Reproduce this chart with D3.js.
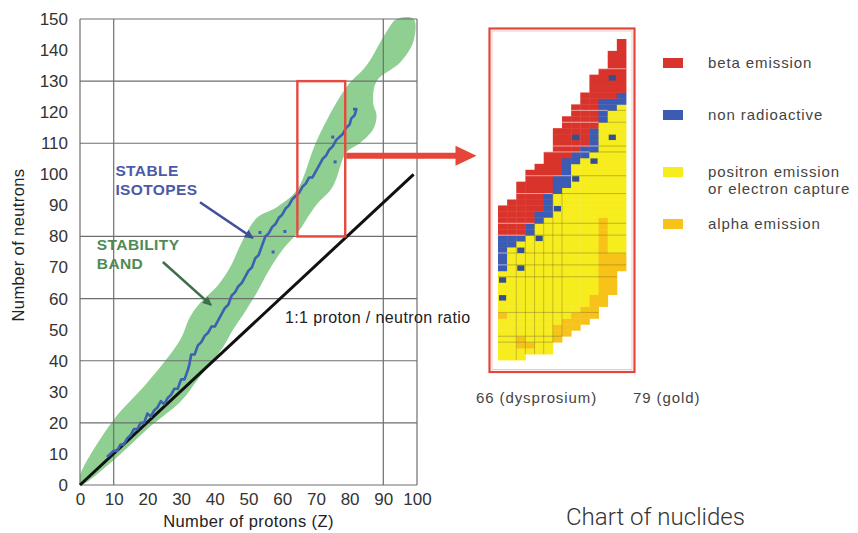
<!DOCTYPE html>
<html lang="en">
<head>
    <meta charset="UTF-8">
    <title>Stability band and chart of nuclides</title>
    <script src="https://d3js.org/d3.v7.min.js"></script>
    <style>
        body {
            margin: 0;
            background: #fff;
            font-family: Arial, "Liberation Sans", sans-serif;
        }
        svg { display: block; }
        .tick text { font-size: 17px; fill: #333; }
        .legend-text { font-size: 15px; fill: #444; letter-spacing: 0.9px; }
        .note { font-size: 16px; fill: #222; letter-spacing: 0.4px; }
        .axis-title { font-size: 16.5px; fill: #222; letter-spacing: 0.4px; }
    </style>
</head>
<body>
    <svg id="chart" width="858" height="533"></svg>

    <script>
        // ---------- data: left panel ----------
        const protonTicks = [0, 10, 20, 30, 40, 50, 60, 70, 80, 90, 100];
        const neutronTicks = [0, 10, 20, 30, 40, 50, 60, 70, 80, 90, 100, 110, 120, 130, 140, 150];
        const gridProtons = [0, 10, 90, 100];
        const gridNeutrons = [0, 20, 40, 60, 80, 110, 130, 150];

        // stability band edges [Z, N]
        const bandUpper = [[0, 3], [10, 21], [20, 33], [29.7, 46.7], [32.6, 54], [35.6, 58.6], [40.7, 64],
            [44.5, 70], [48.4, 79], [52.5, 86], [58.5, 89.5], [64.4, 95], [70.3, 111], [79, 128],
            [85, 135], [91, 146], [94, 150]];
        const bandLower = [[0, 0], [10, 8], [20, 18], [30, 27], [35, 34], [42.5, 44.5], [45.4, 50],
            [48.5, 55], [52.5, 62], [56, 69], [60, 75.6], [64.4, 81], [70, 90], [75, 96], [79, 107],
            [83, 110], [87, 114.5], [88, 119], [87, 123], [88, 130], [95, 136], [99, 143], [99, 150]];

        // stable isotopes trace [Z, N]
        const stableTrace = [[8, 9], [9, 10], [10, 11], [11, 11], [12, 13], [13, 13], [14, 15], [15, 16],
            [16, 18], [17, 18], [18, 20], [19, 20], [20, 23], [21, 22], [22, 24], [23, 25], [24, 27],
            [25, 26], [26, 28], [27, 29], [28, 31], [29, 31], [30, 34], [31, 34], [32, 37], [32.5, 39],
            [33, 42], [34, 42], [35, 45], [36, 46], [37, 48], [38, 49], [39, 51], [40, 51], [41, 53],
            [42, 55], [43, 57], [44, 58], [45, 61], [46, 62], [47, 64], [48, 65], [49, 67], [50, 69],
            [51, 70], [52, 73], [53, 74], [54, 77], [55, 80], [56, 81], [57, 83], [58, 84], [59, 86],
            [60, 87], [61, 89], [62, 90], [63, 92], [64, 93], [65, 94], [66, 96], [67, 97], [68, 99],
            [69, 99], [70, 101], [71, 103], [72, 105], [73, 106], [74, 108], [75, 109], [76, 111],
            [77, 112], [78, 113], [79, 115], [80, 116], [80.5, 118], [81.5, 119], [82, 121], [81, 121]];
        const strayStable = [[53.4, 81.3], [60.8, 81.6], [57.3, 75], [75, 112], [75.7, 104]];

        const oneToOne = [[0, 0], [99, 100]];
        const zoomRangeZ = [64.5, 78.7];
        const zoomRangeN = [80, 130];

        // ---------- data: chart of nuclides ----------
        const nuclideZ = [66, 67, 68, 69, 70, 71, 72, 73, 74, 75, 76, 77, 78, 79];
        const colTop = [95, 96, 99, 101, 102, 104, 108, 110, 112, 114, 117, 118, 121, 123];
        const colRedLow = [91, 91, 91, 93, 95, 98, 101, 104, 105, 106, 109, 114, 114, 115];
        const colBlueLow = [85, 89, 90, 91, 93, 94, 98, 99, 103, 104, 105, 110, 112, 113];
        const colBottom = [70, 70, 70, 71, 71, 71, 73, 74, 75, 76, 77, 79, 81, 85];
        // alpha emitters [Z, N from, N to]
        const alphaRanges = [[66, 77, 77], [68, 72, 73], [69, 72, 72], [72, 73, 75], [73, 74, 76],
            [74, 75, 77], [75, 76, 78], [76, 77, 80], [77, 79, 93], [78, 81, 87], [79, 85, 87]];
        // isolated stable nuclides [Z, N]
        const stableCells = [[78, 117], [78, 107], [74, 107], [76, 103], [74, 100], [72, 95], [70, 90],
            [68, 88], [68, 85], [66, 83], [66, 80]];
        const gridRowsN = [118, 111, 109, 105, 104, 100, 97, 92, 90, 87, 85, 83, 77, 73, 72];
        const gridColsZ = [68, 69, 70, 71, 72, 73];

        const legendKeys = ["beta", "stable", "ec", "alpha"];
        const legendLabels = [["beta emission"], ["non radioactive"],
            ["positron emission", "or electron capture"], ["alpha emission"]];
        const cellColor = {beta: "#d9342b", stable: "#3c5cb4", ec: "#f7ec1e", alpha: "#f7c318"};

        const svg = d3.select("#chart");

        // ---------- left panel ----------
        const x = d3.scaleLinear().domain([0, 100]).range([80, 417]);
        const y = d3.scaleLinear().domain([0, 150]).range([485, 19]);

        svg.append("defs").html(`
            <marker id="headBlue" viewBox="0 0 10 10" refX="9" refY="5" markerUnits="userSpaceOnUse"
                markerWidth="11" markerHeight="9" orient="auto"><path d="M0,0L10,5L0,10z" fill="#3e4f9c"/></marker>
            <marker id="headGreen" viewBox="0 0 10 10" refX="9" refY="5" markerUnits="userSpaceOnUse"
                markerWidth="11" markerHeight="9" orient="auto"><path d="M0,0L10,5L0,10z" fill="#3f6f48"/></marker>
            <clipPath id="plotClip"><rect x="80" y="17" width="340" height="470"/></clipPath>`);

        // stability band
        const bandPts = bandUpper.concat(bandLower.slice().reverse());
        svg.append("path")
            .attr("clip-path", "url(#plotClip)")
            .attr("d", d3.line().x(d => x(d[0])).y(d => y(d[1]))
                .curve(d3.curveCatmullRomClosed.alpha(0.5))(bandPts))
            .attr("fill", "#90cf92");

        // grid
        const grid = svg.append("g").attr("stroke", "#6e6e6e").attr("stroke-width", 1.2);
        grid.selectAll(".h").data(gridNeutrons).join("line").attr("class", "h")
            .attr("x1", x(0)).attr("x2", x(100))
            .attr("y1", d => y(d)).attr("y2", d => y(d));
        grid.selectAll(".v").data(gridProtons).join("line").attr("class", "v")
            .attr("y1", y(0)).attr("y2", y(150))
            .attr("x1", d => x(d)).attr("x2", d => x(d));

        // axes (labels only)
        svg.append("g")
            .attr("transform", `translate(0,${y(0)})`)
            .call(d3.axisBottom(x).tickValues(protonTicks).tickSize(0).tickPadding(8))
            .call(g => g.select(".domain").remove());
        svg.append("g")
            .attr("transform", `translate(${x(0)},0)`)
            .call(d3.axisLeft(y).tickValues(neutronTicks).tickSize(0).tickPadding(12))
            .call(g => g.select(".domain").remove());
        svg.selectAll(".tick text").attr("font-family", "Arial, 'Liberation Sans', sans-serif");

        // 1:1 line
        svg.append("path")
            .attr("d", d3.line().x(d => x(d[0])).y(d => y(d[1]))(oneToOne))
            .attr("stroke", "#111").attr("stroke-width", 3).attr("fill", "none");

        // stable isotopes
        svg.append("path")
            .attr("d", d3.line().x(d => x(d[0])).y(d => y(d[1]))(stableTrace))
            .attr("stroke", "#3d60b0").attr("stroke-width", 2.6).attr("fill", "none")
            .attr("stroke-linejoin", "round");
        svg.selectAll(".stray").data(strayStable).join("rect").attr("class", "stray")
            .attr("x", d => x(d[0]) - 1.5).attr("y", d => y(d[1]) - 1.5)
            .attr("width", 3).attr("height", 3).attr("fill", "#3d60b0");

        // zoom box + arrow
        svg.append("rect")
            .attr("x", x(zoomRangeZ[0])).attr("y", y(zoomRangeN[1]))
            .attr("width", x(zoomRangeZ[1]) - x(zoomRangeZ[0]))
            .attr("height", y(zoomRangeN[0]) - y(zoomRangeN[1]))
            .attr("fill", "none").attr("stroke", "#e64a3e").attr("stroke-width", 2.4);

        const frame = {x0: 489.5, y0: 28.5, x1: 634.5, y1: 372};
        const ay = y(106), ax0 = x(zoomRangeZ[1]) + 1, ax1 = frame.x0 - 13;
        svg.append("path")
            .attr("d", `M${ax0},${ay - 3}H${ax1 - 21}V${ay - 10}L${ax1},${ay}L${ax1 - 21},${ay + 10}V${ay + 3}H${ax0}Z`)
            .attr("fill", "#e6453a");

        // annotations
        svg.append("line")
            .attr("x1", x(35.6)).attr("y1", y(91)).attr("x2", x(51.3)).attr("y2", y(79.5))
            .attr("stroke", "#3e4f9c").attr("stroke-width", 2.6).attr("marker-end", "url(#headBlue)");
        svg.append("line")
            .attr("x1", x(24.6)).attr("y1", y(71.8)).attr("x2", x(38.9)).attr("y2", y(57.9))
            .attr("stroke", "#3f6f48").attr("stroke-width", 2.6).attr("marker-end", "url(#headGreen)");

        const bold = (t, zx, ny, col) => svg.append("text").text(t)
            .attr("x", x(zx)).attr("y", y(ny)).attr("fill", col)
            .attr("font-size", 15.5).attr("font-weight", "bold").attr("letter-spacing", 0.4);
        bold("STABLE", 10.5, 99.5, "#4b5aa6");
        bold("ISOTOPES", 10.5, 93.3, "#4b5aa6");
        bold("STABILITY", 5, 75.8, "#4f8a55");
        bold("BAND", 5, 69.4, "#4f8a55");

        svg.append("text").attr("class", "note")
            .attr("x", x(60.8)).attr("y", y(52)).text("1:1 proton / neutron ratio");

        svg.append("text").attr("class", "axis-title")
            .attr("x", x(50)).attr("y", 527).attr("text-anchor", "middle")
            .text("Number of protons (Z)");
        svg.append("text").attr("class", "axis-title")
            .attr("transform", "translate(24,245) rotate(-90)").attr("text-anchor", "middle")
            .text("Number of neutrons");

        // ---------- chart of nuclides ----------
        const zx = d3.scaleBand().domain(nuclideZ).range([498, 626]);
        const ny = d3.scaleLinear().domain([69.5, 123.5]).range([360, 39]);
        const ch = ny(0) - ny(1);

        const cells = [];
        nuclideZ.forEach((z, i) => {
            for (let n = colBottom[i]; n <= colTop[i]; n++) {
                let type = n >= colRedLow[i] ? "beta" : n >= colBlueLow[i] ? "stable" : "ec";
                alphaRanges.forEach(a => { if (a[0] === z && n >= a[1] && n <= a[2]) type = "alpha"; });
                cells.push({z, n, type});
            }
        });

        svg.append("rect")
            .attr("x", frame.x0).attr("y", frame.y0)
            .attr("width", frame.x1 - frame.x0).attr("height", frame.y1 - frame.y0)
            .attr("fill", "#fff").attr("stroke", "#e1473d").attr("stroke-width", 2.2);
        svg.append("rect")
            .attr("x", frame.x0 + 2.5).attr("y", frame.y0 + 2.5)
            .attr("width", frame.x1 - frame.x0 - 5).attr("height", frame.y1 - frame.y0 - 5)
            .attr("fill", "none").attr("stroke", "#f6c9c4").attr("stroke-width", 1);

        svg.append("g").selectAll("rect").data(cells).join("rect")
            .attr("x", d => zx(d.z)).attr("y", d => ny(d.n + 0.5))
            .attr("width", zx.bandwidth() + 0.4).attr("height", ch + 0.4)
            .attr("fill", d => cellColor[d.type]);

        // faint cell lines
        const lineG = svg.append("g").attr("stroke-width", 0.9);
        cells.filter(d => gridRowsN.includes(d.n)).forEach(d => {
            lineG.append("line")
                .attr("x1", zx(d.z)).attr("x2", zx(d.z) + zx.bandwidth())
                .attr("y1", ny(d.n + 0.5)).attr("y2", ny(d.n + 0.5))
                .attr("stroke", d.type === "ec" || d.type === "alpha" ? "rgba(110,100,30,0.45)" : "rgba(255,215,215,0.75)");
        });
        cells.filter(d => gridColsZ.includes(d.z) && (d.type === "ec" || d.type === "alpha")).forEach(d => {
            lineG.append("line")
                .attr("x1", zx(d.z)).attr("x2", zx(d.z))
                .attr("y1", ny(d.n + 0.5)).attr("y2", ny(d.n - 0.5))
                .attr("stroke", "rgba(110,100,30,0.4)");
        });

        svg.append("g").selectAll("rect").data(stableCells).join("rect")
            .attr("x", d => zx(d[0]) + 1).attr("y", d => ny(d[1] + 0.5) + 0.5)
            .attr("width", zx.bandwidth() - 2).attr("height", ch - 0.5)
            .attr("fill", "#34508f");

        svg.append("text").attr("class", "legend-text").attr("x", 476).attr("y", 403).text("66 (dysprosium)");
        svg.append("text").attr("class", "legend-text").attr("x", 633).attr("y", 403).text("79 (gold)");

        // legend
        const legendY = [63, 115, 172, 224];
        const leg = svg.append("g").selectAll("g").data(legendKeys).join("g")
            .attr("transform", (d, i) => `translate(663,${legendY[i]})`);
        leg.append("rect").attr("x", 0).attr("y", -5).attr("width", 20).attr("height", 10)
            .attr("fill", d => cellColor[d]);
        leg.each(function(d, i) {
            legendLabels[i].forEach((t, j) => {
                d3.select(this).append("text").attr("class", "legend-text")
                    .attr("x", 45).attr("y", 5 + j * 17).text(t);
            });
        });

        svg.append("text")
            .attr("x", 566).attr("y", 525)
            .attr("font-family", "Roboto, sans-serif").attr("font-weight", 300)
            .attr("font-size", 24).attr("fill", "#333")
            .attr("textLength", 179).attr("lengthAdjust", "spacingAndGlyphs")
            .text("Chart of nuclides");
    </script>
</body>
</html>
